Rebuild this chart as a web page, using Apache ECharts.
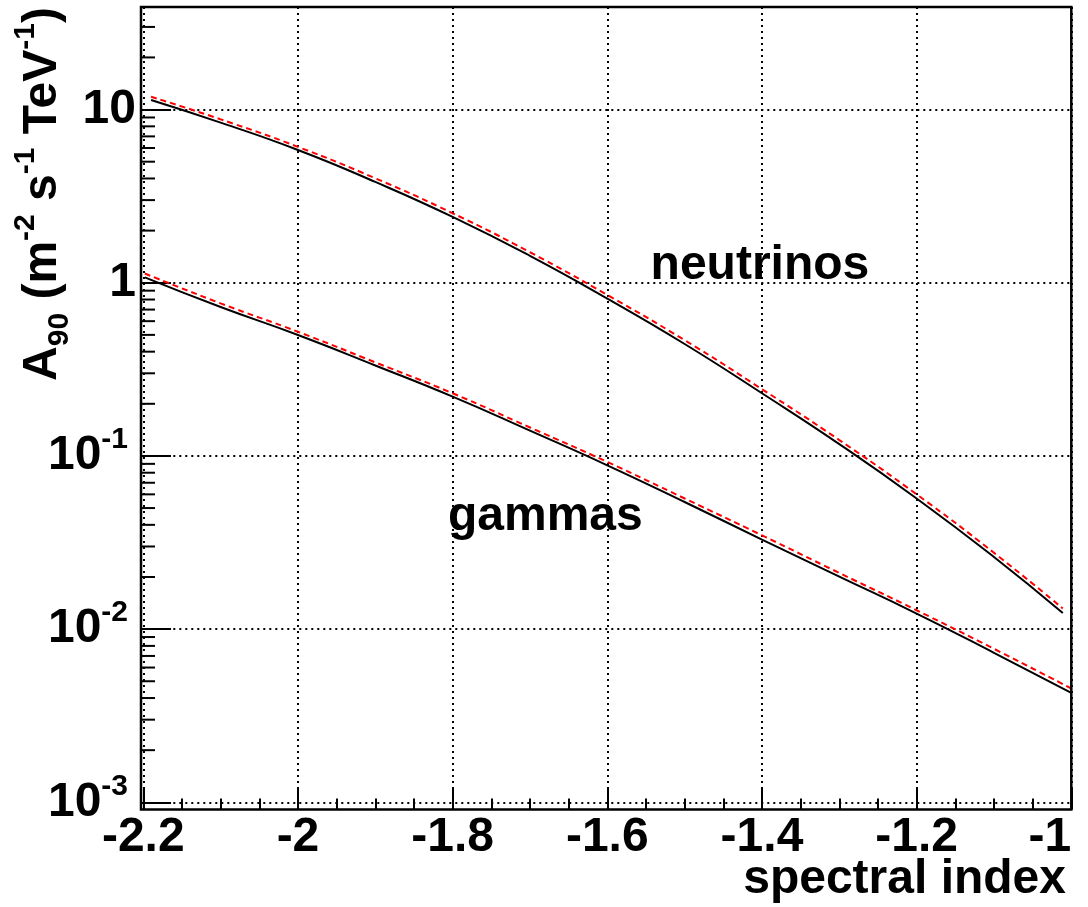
<!DOCTYPE html>
<html><head><meta charset="utf-8">
<script src="https://cdn.jsdelivr.net/npm/echarts@6/dist/echarts.min.js"></script>
<style>html,body{margin:0;padding:0;background:#fff}#c{width:1088px;height:907px}</style>
</head><body><div id="c"></div>
<script>
// ---------------- data ----------------
const spectralIndexNeutrino = [-2.19, -2.1, -2.0, -1.9, -1.8, -1.7, -1.6, -1.5, -1.4, -1.3, -1.2, -1.1, -1.011];
const neutrinoSolid  = [11.35, 8.40, 5.84, 3.82, 2.40, 1.43, 0.81, 0.443, 0.230, 0.117, 0.0568, 0.0261, 0.0124];
const neutrinoDashed = [11.86, 8.78, 6.09, 4.01, 2.52, 1.50, 0.85, 0.466, 0.243, 0.1235, 0.060, 0.0276, 0.01315];
const spectralIndexGamma = [-2.198, -2.1, -2.0, -1.9, -1.8, -1.7, -1.6, -1.5, -1.4, -1.3, -1.2, -1.1, -1.0];
const gammaSolid  = [1.074, 0.724, 0.499, 0.333, 0.220, 0.140, 0.0883, 0.0542, 0.0329, 0.0201, 0.0123, 0.0073, 0.00428];
const gammaDashed = [1.13, 0.76, 0.521, 0.347, 0.230, 0.146, 0.0923, 0.0568, 0.0348, 0.0211, 0.01285, 0.0077, 0.00454];

const annotationText = ['neutrinos', 'gammas'];
const annotationX = [-1.544, -1.806];
const annotationY = [1.26, 0.0445];

const xMin = -2.2, xMax = -1.0, xStep = 0.2;
const yMin = 0.001, yMax = 39.1;
const yDecades = [0.001, 0.01, 0.1, 1, 10];
const yMinorMantissas = [2, 3, 4, 5, 6, 7, 8, 9];
const xTitle = 'spectral index';

// ---------------- helpers ----------------
const FONT = 'Liberation Sans, Arial, Helvetica, sans-serif';
const pairs = (xs, ys) => xs.map((x, i) => [x, ys[i]]);
const yMinorTicks = [];
yDecades.forEach(d => yMinorMantissas.forEach(m => { const v = d * m; if (v < yMax) yMinorTicks.push([xMin, v]); }));

const GRID = { left: 143.3, right: 16.7, top: 7, bottom: 104.7 };
const Y_AXIS_OFFSET = 2.3;

const chart = echarts.init(document.getElementById('c'), null, { renderer: 'canvas' });

const dotted = { color: '#000', width: 2, type: [2, 4] };
const SMOOTH = 0.5;

chart.setOption({
  backgroundColor: '#fff',
  animation: false,
  grid: GRID,
  xAxis: {
    type: 'value', min: xMin, max: xMax, interval: xStep,
    offset: 7.2,
    axisLine: { show: false },
    axisTick: { show: true, inside: true, length: 22, lineStyle: { color: '#000', width: 2 } },
    minorTick: { show: true, splitNumber: 4, length: 11, lineStyle: { color: '#000', width: 2 } },
    splitLine: { show: true, lineStyle: dotted },
    axisLabel: {
      show: true, margin: 4, color: '#000', fontFamily: FONT, fontWeight: 'bold', fontSize: 48,
      showMinLabel: true, showMaxLabel: true, alignMaxLabel: 'right',
      formatter: v => String(Math.round(v * 10) / 10)
    }
  },
  yAxis: {
    type: 'log', logBase: 10, min: yMin, max: yMax,
    offset: Y_AXIS_OFFSET,
    axisLine: { show: false },
    axisTick: { show: true, inside: true, length: 30, lineStyle: { color: '#000', width: 2 } },
    splitLine: { show: true, lineStyle: dotted },
    axisLabel: {
      show: true, margin: 5, color: '#000', fontFamily: FONT, fontWeight: 'bold', fontSize: 48,
      formatter: v => {
        const e = Math.log10(v), r = Math.round(e);
        if (Math.abs(e - r) > 1e-6) return '';
        if (r === 0) return '{b|1}';
        if (r === 1) return '{b|10}';
        return '{b|10}{s|' + r + '}{p| }';
      },
      rich: {
        b: { fontFamily: FONT, fontWeight: 'bold', fontSize: 48, lineHeight: 62, color: '#000' },
        s: { fontFamily: FONT, fontWeight: 'bold', fontSize: 30, lineHeight: 30, verticalAlign: 'top', color: '#000' },
        p: { fontFamily: FONT, fontSize: 10, lineHeight: 10, width: 8 }
      }
    }
  },
  graphic: [
    { type: 'rect', z: 100, silent: true,
      shape: { x: 141, y: 7, width: 930.3, height: 802.5 },
      style: { fill: 'none', stroke: '#000', lineWidth: 2.5 } },
    { type: 'text', x: 1066, y: 880, z: 100,
      style: { text: xTitle, align: 'right', verticalAlign: 'middle', fill: '#000',
               fontFamily: FONT, fontWeight: 'bold', fontSize: 48 } },
    { type: 'text', x: 43, y: 194, rotation: Math.PI / 2, z: 100,
      style: {
        text: '{b|A}{sub|90}{b| (m}{sup|-2}{b| s}{sup|-1}{b| TeV}{sup|-1}{b|)}',
        align: 'center', verticalAlign: 'middle', fill: '#000',
        fontFamily: FONT, fontWeight: 'bold', fontSize: 48,
        rich: {
          b: { fontFamily: FONT, fontWeight: 'bold', fontSize: 48, lineHeight: 64, fill: '#000' },
          sup: { fontFamily: FONT, fontWeight: 'bold', fontSize: 30, lineHeight: 30, verticalAlign: 'top', fill: '#000' },
          sub: { fontFamily: FONT, fontWeight: 'bold', fontSize: 30, lineHeight: 30, verticalAlign: 'bottom', fill: '#000' }
        }
      } }
  ],
  series: [
    { type: 'line', name: 'neutrinos', data: pairs(spectralIndexNeutrino, neutrinoSolid),
      showSymbol: false, smooth: SMOOTH,
      lineStyle: { color: '#000', width: 2 }, z: 3 },
    { type: 'line', name: 'neutrinos (dashed)', data: pairs(spectralIndexNeutrino, neutrinoDashed),
      showSymbol: false, smooth: SMOOTH,
      lineStyle: { color: '#ff0000', width: 2, type: [6, 4] }, z: 4 },
    { type: 'line', name: 'gammas', data: pairs(spectralIndexGamma, gammaSolid),
      showSymbol: false, smooth: SMOOTH,
      lineStyle: { color: '#000', width: 2 }, z: 3 },
    { type: 'line', name: 'gammas (dashed)', data: pairs(spectralIndexGamma, gammaDashed),
      showSymbol: false, smooth: SMOOTH,
      lineStyle: { color: '#ff0000', width: 2, type: [6, 4] }, z: 4 },
    { type: 'custom', name: 'y minor ticks', silent: true, clip: false, z: 5,
      data: yMinorTicks,
      renderItem: (params, api) => {
        const p = api.coord([api.value(0), api.value(1)]);
        return { type: 'line', shape: { x1: p[0] - Y_AXIS_OFFSET, y1: p[1], x2: p[0] - Y_AXIS_OFFSET + 14, y2: p[1] },
                 style: { stroke: '#000', lineWidth: 2 } };
      } },
    { type: 'scatter', name: 'labels', silent: true, symbolSize: 0,
      itemStyle: { opacity: 1 },
      data: annotationX.map((x, i) => ({ value: [x, annotationY[i]], name: annotationText[i] })),
      label: { show: true, position: [0, 0], align: 'left', verticalAlign: 'middle', opacity: 1,
               formatter: p => p.name, color: '#000', fontFamily: FONT, fontWeight: 'bold', fontSize: 48 } }
  ]
});
</script></body></html>
